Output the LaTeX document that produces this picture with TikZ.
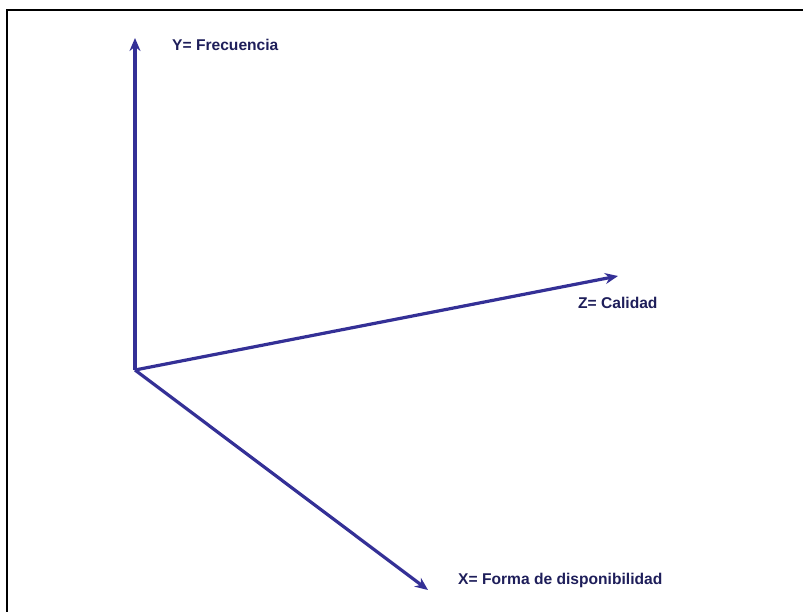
\documentclass[tikz,border=0pt]{standalone}
\usepackage{fontspec}
\setmainfont{Liberation Sans}
\usetikzlibrary{arrows.meta}
\definecolor{axisblue}{RGB}{52,48,150}
\definecolor{labelnavy}{RGB}{30,30,90}
\begin{document}
\begin{tikzpicture}[x=1pt, y=-1pt, font=\fontsize{15.6}{18}\selectfont\bfseries,
    axis/.style={draw=axisblue, line width=3.2pt, -{Stealth[length=13pt, width=11pt]}},
    lbl/.style={text=labelnavy, anchor=west, inner sep=0pt}]
  \useasboundingbox (0,0) rectangle (803,612);
  \draw[line width=2.2pt] (7,614) -- (7,10) -- (805,10);
  \coordinate (O) at (135,370);
  \coordinate (ytip) at (135,38);
  \coordinate (ztip) at (618,276);
  \coordinate (xtip) at (428,590);
  \draw[axis] (O) -- (ytip);
  \draw[axis] (O) -- (ztip);
  \draw[axis] (O) -- (xtip);
  \node[lbl] (ylab) at (172,45)  {Y= Frecuencia};
  \node[lbl] (zlab) at (578,303) {Z= Calidad};
  \node[lbl] (xlab) at (458,580) {X= Forma de disponibilidad};
\end{tikzpicture}
\end{document}
